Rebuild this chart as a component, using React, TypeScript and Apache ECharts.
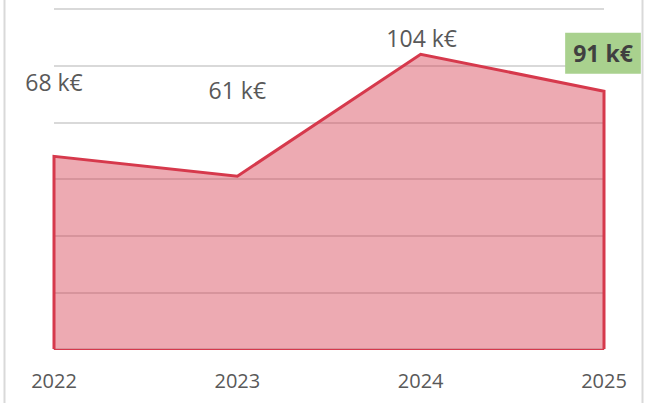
import React, { useEffect, useRef } from "react";
import * as echarts from "echarts";

const years = [2022, 2023, 2024, 2025];
const values = [68, 61, 104, 91];
const labelTexts = ["68 k€", "61 k€", "104 k€", "91 k€"];
const labelOffsets: [number, number][] = [
  [0, -74],
  [0, -86],
  [1, -16],
  [-1, -38],
];
const yTicks = { min: 0, max: 120, interval: 20 };

const RED = "#d6394c";
const FONT = "'Open Sans', 'Noto Sans', sans-serif";

export default function App() {
  const ref = useRef<HTMLDivElement>(null);
  useEffect(() => {
    if (!ref.current) return;
    const chart = echarts.init(ref.current, undefined, { renderer: "svg" });
    const last = years.length - 1;
    const data: any[] = [{ value: [years[0], 0], label: { show: false } }];
    years.forEach((y, i) => {
      const highlight = i === last;
      data.push({
        value: [y, values[i]],
        label: {
          show: true,
          position: "inside",
          offset: labelOffsets[i],
          formatter: labelTexts[i],
          fontFamily: FONT,
          fontSize: 23,
          color: highlight ? "#404040" : "#595959",
          fontWeight: highlight ? "bold" : "normal",
          backgroundColor: highlight ? "#a9d18e" : "transparent",
          padding: highlight ? [9, 8] : 0,
        },
      });
    });
    data.push({ value: [years[last], 0], label: { show: false } });

    chart.setOption({
      animation: false,
      grid: { left: 54, right: 52, top: 9, bottom: 54 },
      xAxis: {
        type: "value",
        min: years[0],
        max: years[last],
        interval: 1,
        splitLine: { show: false },
        axisTick: { show: false },
        axisLine: { show: true, lineStyle: { color: "#d9d9d9", width: 2 } },
        axisLabel: {
          formatter: (v: number) => String(v),
          color: "#595959",
          fontFamily: FONT,
          fontSize: 20,
          margin: 21,
        },
      },
      yAxis: {
        type: "value",
        min: yTicks.min,
        max: yTicks.max,
        interval: yTicks.interval,
        axisLabel: { show: false },
        axisLine: { show: false },
        axisTick: { show: false },
        splitLine: { show: true, lineStyle: { color: "#d9d9d9", width: 2 } },
      },
      graphic: [
        { type: "line", shape: { x1: 4.5, y1: 0, x2: 4.5, y2: 403 }, style: { stroke: "#d9d9d9", lineWidth: 2 } },
        { type: "line", shape: { x1: 642.5, y1: 0, x2: 642.5, y2: 403 }, style: { stroke: "#d9d9d9", lineWidth: 2 } },
      ],
      series: [
        {
          type: "line",
          data,
          symbol: "circle",
          symbolSize: 0,
          showSymbol: true,
          lineStyle: { color: RED, width: 3, join: "miter" },
          itemStyle: { color: RED },
          areaStyle: { color: RED, opacity: 0.43 },
          clip: false,
          markLine: {
            silent: true,
            symbol: "none",
            label: { show: false },
            lineStyle: { color: RED, width: 1, type: "solid" },
            data: [{ yAxis: 0 }],
          },
          z: 3,
        },
      ],
    });
    return () => chart.dispose();
  }, []);
  return (
    <div
      ref={ref}
      style={{ position: "absolute", left: 0, top: 0, width: 656, height: 403, background: "#fff" }}
    />
  );
}
